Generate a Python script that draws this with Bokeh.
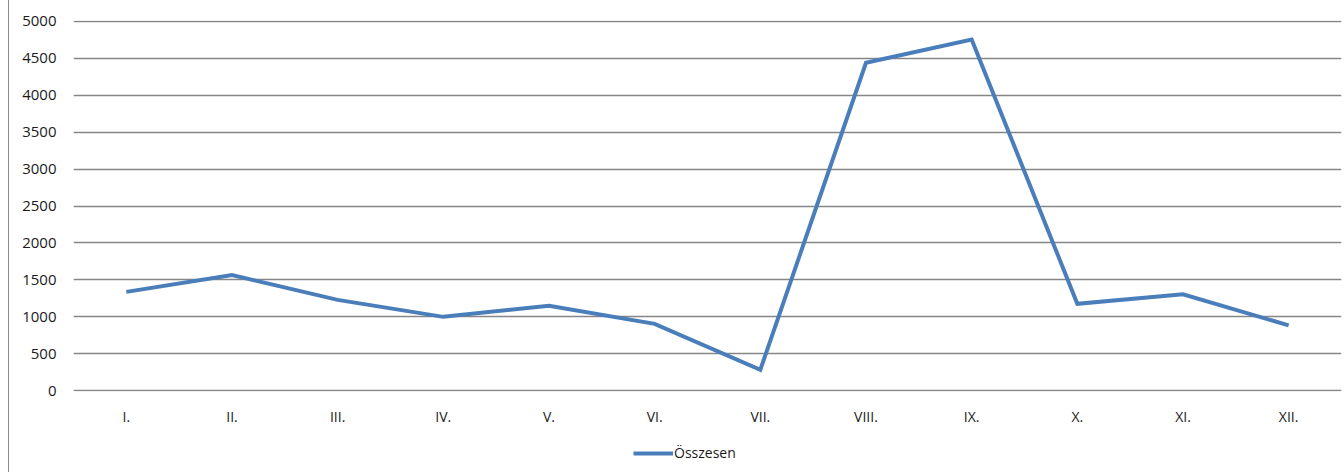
from bokeh.plotting import figure
from bokeh.models import FactorRange, Range1d, FixedTicker, Legend, LegendItem
from bokeh.layouts import column
from bokeh.embed import file_html
from bokeh.resources import INLINE

months = ["I.", "II.", "III.", "IV.", "V.", "VI.", "VII.", "VIII.", "IX.", "X.", "XI.", "XII."]
osszesen = [1338, 1565, 1230, 1000, 1150, 905, 284, 4438, 4753, 1176, 1305, 885]
y_ticks = [0, 500, 1000, 1500, 2000, 2500, 3000, 3500, 4000, 4500, 5000]
series_name = "Összesen"

FONT = "Open Sans"
LINE_COLOR = "#4a7ebb"
BORDER_STYLE = {"margin-left": "8px", "border-left": "1px solid #8c8c8c"}

fig = figure(width=1335, height=436, x_range=FactorRange(*months), y_range=Range1d(-10, 5010),
             output_backend="svg", toolbar_location=None,
             min_border_left=64, min_border_right=3, min_border_top=20, min_border_bottom=45)
fig.styles = BORDER_STYLE
fig.outline_line_color = None

r = fig.line(months, osszesen, line_color=LINE_COLOR, line_width=4, line_join="miter")

fig.xaxis.axis_line_color = None
fig.xaxis.major_tick_line_color = None
fig.xaxis.minor_tick_line_color = None
fig.xaxis.major_label_standoff = 9
fig.xaxis.major_label_text_font = FONT
fig.xaxis.major_label_text_font_size = "14px"
fig.xaxis.major_label_text_color = "#1a1a1a"

fig.yaxis.ticker = FixedTicker(ticks=y_ticks)
fig.yaxis.axis_line_color = None
fig.yaxis.major_tick_line_color = None
fig.yaxis.minor_tick_line_color = None
fig.yaxis.major_label_standoff = 11
fig.yaxis.major_label_text_font = FONT
fig.yaxis.major_label_text_font_size = "15px"
fig.yaxis.major_label_text_color = "#1a1a1a"

fig.xgrid.grid_line_color = None
fig.ygrid.grid_line_color = "#868686"
fig.ygrid.grid_line_width = 1.5

# legend strip below the chart (its line lies outside the visible range)
leg = figure(width=1335, height=36, x_range=Range1d(0, 1), y_range=Range1d(0, 1),
             x_axis_location=None, y_axis_location=None,
             output_backend="svg", toolbar_location=None,
             min_border_left=0, min_border_right=0, min_border_top=0, min_border_bottom=0)
leg.styles = BORDER_STYLE
leg.outline_line_color = None
leg.xgrid.visible = False
leg.ygrid.visible = False
r2 = leg.line(x=[5, 6], y=[5, 5], line_color=LINE_COLOR, line_width=4)

legend = Legend(items=[LegendItem(label=series_name, renderers=[r2])],
                location=(560, 10), orientation="horizontal",
                padding=0, margin=0, spacing=0, label_standoff=1,
                glyph_width=40, glyph_height=16,
                border_line_color=None, background_fill_alpha=0,
                label_text_font=FONT, label_text_font_size="14px", label_text_color="#1a1a1a")
leg.add_layout(legend, "center")

p = column(fig, leg, spacing=0)

open("out.html", "w").write(file_html(p, INLINE))
